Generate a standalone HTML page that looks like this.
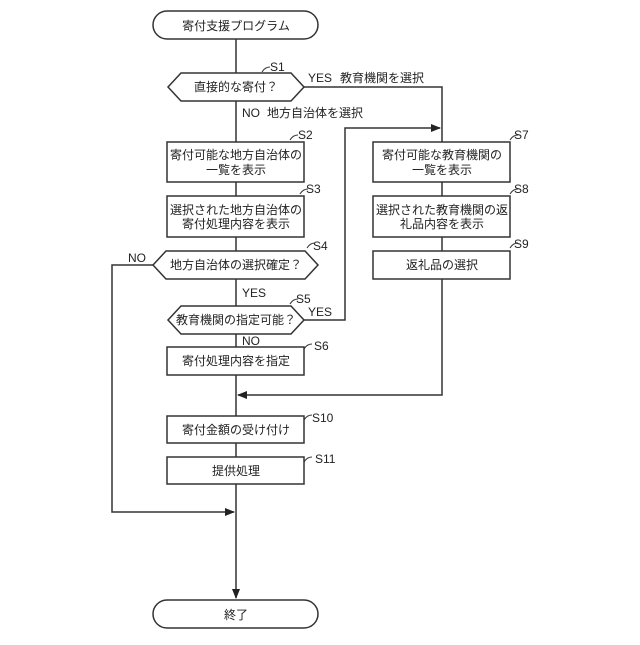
<!DOCTYPE html>
<html><head><meta charset="utf-8"><style>
body{margin:0;background:#fff}
svg text{font-family:"Liberation Sans","Noto Sans CJK JP",sans-serif;font-size:12px;fill:#222}
</style></head><body>
<svg width="640" height="640" viewBox="0 0 640 640" xmlns="http://www.w3.org/2000/svg">
<defs><marker id="a" markerWidth="10" markerHeight="8" refX="9" refY="4" orient="auto" markerUnits="userSpaceOnUse"><path d="M0,0L10,4L0,8z" fill="#222"/></marker></defs>
<g stroke="#333" stroke-width="1.5" fill="none">
<rect x="153" y="11" width="165" height="28" rx="14" fill="#fff"/>
<rect x="153" y="600" width="165" height="28" rx="14" fill="#fff"/>
<line x1="236" y1="39" x2="236" y2="73"/>
<polygon points="168,87 181,73 291,73 304,87 291,101 181,101" fill="#fff"/>
<polyline points="304,87 442,87 442,142"/>
<line x1="236" y1="101" x2="236" y2="142"/>
<rect x="167" y="142" width="137" height="40"/>
<line x1="236" y1="182" x2="236" y2="196"/>
<rect x="167" y="196" width="137" height="41"/>
<line x1="236" y1="237" x2="236" y2="251"/>
<polygon points="153,265 166,251 305,251 318,265 305,279 166,279"/>
<polyline points="153,265 112,265 112,512 234,512" marker-end="url(#a)"/>
<line x1="236" y1="279" x2="236" y2="306"/>
<polygon points="168,320 181,306 291,306 304,320 291,334 181,334"/>
<polyline points="304,320 345,320 345,128 440,128" marker-end="url(#a)"/>
<line x1="236" y1="334" x2="236" y2="347"/>
<rect x="167" y="347" width="137" height="28"/>
<line x1="236" y1="375" x2="236" y2="416"/>
<rect x="373" y="142" width="137" height="40"/>
<line x1="442" y1="182" x2="442" y2="196"/>
<rect x="373" y="196" width="137" height="41"/>
<line x1="442" y1="237" x2="442" y2="251"/>
<rect x="373" y="251" width="137" height="28"/>
<polyline points="442,279 442,395 238,395" marker-end="url(#a)"/>
<rect x="167" y="416" width="137" height="27"/>
<line x1="236" y1="443" x2="236" y2="457"/>
<rect x="167" y="457" width="137" height="27"/>
<line x1="236" y1="484" x2="236" y2="598" marker-end="url(#a)"/>
<path d="M262,72q3,-5 8,-5 M290,140q3,-5 8,-5 M300,194q3,-5 8,-5 M307,248q3,-5 8,-5 M290,304q3,-5 8,-5 M304,349q3,-5 8,-5 M510,140q3,-5 8,-5 M510,194q3,-5 8,-5 M510,248q3,-5 8,-5 M304,420q3,-5 8,-5 M304,462q3,-5 8,-5" stroke-width="1"/>
</g>
<g text-anchor="middle">
<text x="236" y="30">寄付支援プログラム</text>
<text x="236" y="619">終了</text>
<text x="236" y="91">直接的な寄付？</text>
<text x="236" y="159">寄付可能な地方自治体の</text><text x="236" y="174">一覧を表示</text>
<text x="236" y="214">選択された地方自治体の</text><text x="236" y="228">寄付処理内容を表示</text>
<text x="236" y="269">地方自治体の選択確定？</text>
<text x="236" y="324">教育機関の指定可能？</text>
<text x="236" y="365">寄付処理内容を指定</text>
<text x="442" y="159">寄付可能な教育機関の</text><text x="442" y="174">一覧を表示</text>
<text x="442" y="214">選択された教育機関の返</text><text x="442" y="228">礼品内容を表示</text>
<text x="442" y="269">返礼品の選択</text>
<text x="236" y="434">寄付金額の受け付け</text>
<text x="236" y="475">提供処理</text>
</g>
<g>
<text x="270" y="71">S1</text><text x="298" y="139">S2</text><text x="306" y="193">S3</text><text x="313" y="250">S4</text><text x="296" y="303">S5</text><text x="314" y="350">S6</text>
<text x="514" y="139">S7</text><text x="514" y="193">S8</text><text x="514" y="248">S9</text><text x="312" y="422">S10</text><text x="315" y="463">S11</text>
<text x="308" y="82">YES</text><text x="340" y="82">教育機関を選択</text>
<text x="242" y="117">NO</text><text x="267" y="117">地方自治体を選択</text>
<text x="128" y="262">NO</text>
<text x="242" y="297">YES</text>
<text x="308" y="316">YES</text>
<text x="242" y="345">NO</text>
</g>
</svg>
</body></html>
